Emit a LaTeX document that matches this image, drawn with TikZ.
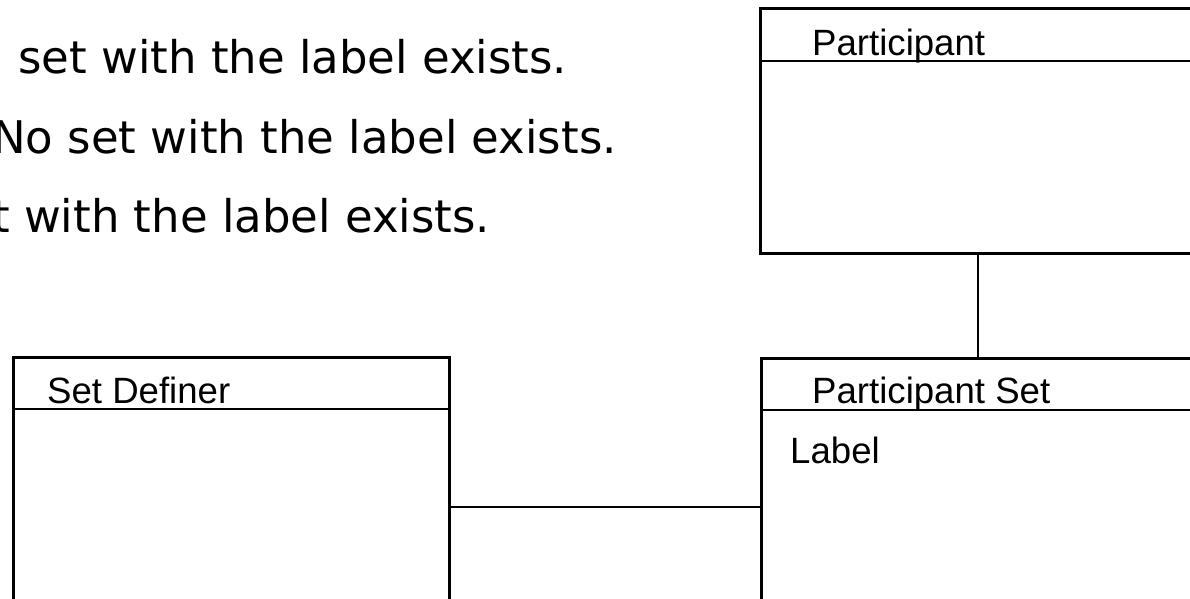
\documentclass[tikz,border=0pt]{standalone}
\usepackage{fontspec}
\setmainfont{Liberation Sans}
\newfontfamily\handfont{DejaVu Sans}
\begin{document}
\begin{tikzpicture}[x=1pt,y=-1pt,
  classbox/.style={draw=black, line width=3pt, rectangle, inner sep=0pt, outer sep=0pt, anchor=north west},
  divider/.style={draw=black, line width=2.8pt},
  link/.style={draw=black, line width=2.5pt},
  title/.style={anchor=base west, inner sep=0pt, font=\fontsize{36.6}{40}\selectfont},
  note/.style={anchor=base west, inner sep=0pt, font=\handfont\fontsize{45}{50}\selectfont}]
\useasboundingbox (0,0) rectangle (1190,598);
\clip (0,0) rectangle (1190,598);

% notes
\node[note] (n1) at (18,73) {set with the label exists.};
\node[note] (n2) at (-8,153) {No set with the label exists.};
\node[note] (n3) at (-8,232) {t with the label exists.};

% class boxes
\node[classbox, minimum width=500pt, minimum height=245pt] (part) at (760,8) {};
\draw[divider] (760,61) -- (1260,61);
\node[title] (partT) at (812,55) {Participant};

\node[classbox, minimum width=500pt, minimum height=340pt] (pset) at (761,358) {};
\draw[divider] (761,410) -- (1261,410);
\node[title] (psetT) at (812,403) {Participant Set};
\node[title] (psetL) at (790,463) {Label};

\node[classbox, minimum width=436pt, minimum height=340pt] (sdef) at (13,357) {};
\draw[divider] (13,409) -- (449,409);
\node[title] (sdefT) at (47,403) {Set Definer};

% connectors
\draw[link] (part.south -| 978,0) -- (pset.north -| 978,0);
\draw[link] (sdef.east |- 0,507) -- (pset.west |- 0,507);
\end{tikzpicture}
\end{document}
